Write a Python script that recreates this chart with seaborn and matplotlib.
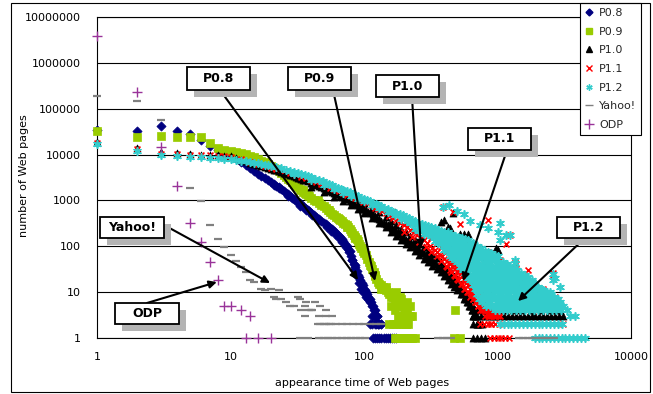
import matplotlib
matplotlib.use("Agg")
import matplotlib.pyplot as plt
import seaborn as sns
import pandas as pd
from matplotlib.patches import Rectangle
from matplotlib.lines import Line2D

# ---------------- data ----------------
series_names = ["P0.8", "P0.9", "P1.0", "P1.1", "P1.2", "Yahoo!", "ODP"]
x_ticks = [1, 10, 100, 1000, 10000]
x_tick_labels = ["1", "10", "100", "1000", "10000"]
y_ticks = [1, 10, 100, 1000, 10000, 100000, 1000000, 10000000]
y_tick_labels = ["1", "10", "100", "1000", "10000", "100000", "1000000", "10000000"]

# P0.8
p08_x = [1, 2, 3, 4, 5, 6, 7, 8, 9, 10, 11, 12, 13, 14, 15, 16, 17, 18, 19, 20,
         21, 22, 23, 24, 25, 26, 27, 28, 29, 30, 31, 32, 33, 34, 35, 36, 37, 38, 39, 40,
         42, 44, 46, 48, 50, 52, 54, 56, 58, 60, 62, 64, 66, 68, 70, 72, 74, 76, 78, 80,
         82, 84, 86, 88, 90, 92, 94, 96, 98, 100, 102, 104, 106, 108, 110, 112, 114, 116, 118, 120,
         123, 126, 130]
p08_y = [35000, 33000, 41000, 33000, 27500, 20500, 15500, 12500, 11000, 10000,
         8400, 7000, 5900, 5000, 4300, 3800, 3400, 3050, 2750, 2500,
         2280, 2080, 1900, 1740, 1600, 1470, 1350, 1250, 1150, 1070,
         990, 920, 860, 800, 750, 700, 660, 620, 580, 540,
         480, 435, 395, 360, 330, 300, 275, 255, 235, 215, 195, 175, 158, 143, 128, 113, 100, 88, 77, 60,
         50, 42, 35, 29, 24, 21, 18, 16, 14, 12, 11, 10, 9, 8, 7, 6, 5, 5, 4, 4,
         3, 3, 2]
p08_scatter_x = [21, 23, 27, 33, 37, 41, 45, 53, 57, 61, 65, 69, 73, 77, 81, 85,
                 84, 87, 91, 95, 99, 103, 107, 111, 115, 119, 124, 128, 122, 126, 134,
                 110, 115, 120, 128, 135,
                 117, 121, 125, 130, 135, 140, 145, 150, 156, 162, 168, 175]
p08_scatter_y = [2150, 1980, 1280, 760, 620, 470, 380, 270, 220, 190, 150, 125, 96, 74, 50, 40,
                 30, 24, 16, 12, 10, 8, 7, 6, 3, 3, 2, 2, 3, 3, 2,
                 2, 2, 2, 2, 2,
                 1, 1, 1, 1, 1, 1, 1, 1, 1, 1, 1, 1]

# P0.9
p09_x = [1, 2, 3, 4, 5, 6, 7, 8, 9, 10, 11, 12, 13, 14, 15, 16, 17, 18, 19, 20,
         21, 22, 23, 24, 25, 26, 27, 28, 29, 30, 31, 32, 33, 34, 35, 36, 37, 38, 39, 40,
         42, 44, 46, 48, 50, 52, 54, 56, 58, 60, 62, 64, 66, 68, 70, 72, 74, 76, 78, 80,
         82, 84, 86, 88, 90, 92, 94, 96, 98, 100, 103, 106, 109, 112, 115, 118, 121, 124, 127, 130,
         134, 138, 142, 146, 150, 155, 160, 165, 170, 175, 180, 186, 192, 198, 204, 210, 216, 222, 228]
p09_y = [33000, 24500, 26000, 24000, 24000, 24000, 17700, 14000, 12500, 12000,
         11500, 11000, 10300, 9500, 8800, 8100, 7400, 6800, 6200, 5700,
         5200, 4800, 4400, 4000, 3600, 3300, 3000, 2750, 2500, 2280,
         2080, 1920, 1770, 1660, 1560, 1480, 1400, 1330, 1260, 1150,
         1040, 950, 870, 800, 740, 690, 630, 560, 500, 470, 440, 410, 380, 350, 325, 305, 290, 260, 235, 215,
         195, 178, 160, 145, 128, 113, 100, 90, 80, 72, 63, 53, 45, 38, 32, 27, 23, 19, 17, 15,
         14, 13, 12, 11, 10, 9, 8, 8, 7, 6, 6, 5, 5, 4, 5, 4, 3, 3, 3]
p09_scatter_x = [31, 35, 45, 55, 65, 75, 85, 95, 110, 120, 135, 145,
                 160, 170, 180, 190, 200, 210, 220, 175, 185, 195, 205,
                 155, 165, 175, 185, 195, 205, 215,
                 170, 178, 186, 194, 202, 210, 220, 230, 240,
                 481, 470, 525]
p09_scatter_y = [2300, 1700, 1000, 620, 390, 260, 150, 90, 40, 24, 12, 13,
                 5, 4, 3, 7, 3, 6, 5, 10, 8, 3, 2,
                 2, 2, 2, 2, 2, 2, 2,
                 1, 1, 1, 1, 1, 1, 1, 1, 1,
                 4, 1, 1]

# P1.0
p10_x = [1, 2, 3, 4, 5, 6, 7, 8, 9, 10, 11, 12, 13, 14, 15, 16, 17, 18, 19, 20,
         21, 22, 23, 24, 25, 26, 27, 28, 29, 30, 31, 32, 33, 34, 35, 36, 38, 40, 42, 44,
         46, 48, 50, 52, 54, 56, 58, 60, 63, 66, 69, 72, 75, 78, 81, 84, 87, 90, 93, 96,
         100, 104, 108, 112, 116, 120, 125, 130, 135, 140, 145, 150, 156, 162, 168, 174, 180, 187, 194, 201,
         208, 216, 224, 232, 240, 250, 260, 270, 280, 290, 300, 312, 324, 336, 348, 360, 375, 390, 405, 420,
         435, 450, 465, 480, 495, 510, 525, 540, 555, 570, 585, 600, 615, 630, 645, 660, 680, 700]
p10_y = [19000, 14000, 11500, 11000, 10500, 10000, 10000, 9800, 9500, 9200,
         8500, 7800, 7200, 6700, 6300, 5900, 5600, 5300, 5100, 4900,
         4700, 4500, 4300, 4200, 4000, 3900, 3750, 3600, 3500, 3400,
         3300, 3150, 3050, 2950, 2850, 2750, 2600, 2450, 2300, 2200,
         2100, 1950, 1850, 1750, 1680, 1600, 1520, 1450, 1350, 1270, 1200, 1120, 1050, 990, 930, 880, 830, 780, 740, 700,
         650, 610, 570, 530, 500, 460, 420, 390, 360, 330, 310, 290, 275, 255, 235, 215, 200, 185, 170, 155,
         140, 130, 120, 110, 100, 92, 84, 76, 70, 64, 58, 54, 50, 46, 42, 38, 34, 31, 28, 25,
         23, 21, 18, 16, 14, 13, 12, 10, 9, 8, 7, 6, 5, 5, 4, 3, 3, 2]
p10_upper_x = [40, 50, 60, 70, 80, 90, 100, 115, 130, 145, 160, 175, 190, 205, 220, 240, 260, 280, 300, 325,
               350, 375, 400, 425, 450, 475, 500, 530, 560, 590, 620, 650, 680]
p10_upper_y = [3100, 2400, 1900, 1550, 1250, 1050, 880, 700, 560, 440, 350, 290, 240, 200, 165, 140, 115, 95, 80, 68,
               56, 46, 38, 32, 27, 23, 19, 15, 12, 9, 7, 5, 4]
p10_lower_x = [40, 50, 60, 70, 80, 90, 100, 115, 130, 145, 160, 175, 190, 205, 220, 240, 260, 280, 300, 325,
               350, 375, 400, 425, 450, 475, 500, 530, 560, 590, 620, 650, 680, 720, 760]
p10_lower_y = [2000, 1500, 1200, 950, 780, 640, 540, 420, 320, 260, 210, 170, 140, 115, 95, 78, 64, 54, 46, 38,
               32, 27, 22, 18, 15, 13, 11, 9, 7, 6, 5, 4, 3, 2, 2]
p10_outlier_x = [166, 170, 380, 395, 425, 440, 465, 520, 560, 600, 620, 800, 805, 820, 980, 1000, 1160]
p10_outlier_y = [570, 560, 345, 373, 268, 245, 530, 190, 190, 190, 76, 55, 54, 50, 90, 83, 24]
p10_row3_x = [650, 700, 750, 800, 860, 920, 980, 1050, 1120, 1200, 1280, 1370, 1470, 1570, 1680, 1800,
              1920, 2060, 2200, 2350, 2520, 2700, 2880, 3080]
p10_row4_x = [640, 700, 780, 850, 950, 1100, 1300, 1500, 1800, 2100, 2500, 2900]
p10_row2_x = [660, 700, 740]
p10_row1_x = [660, 705, 755, 805]

# P1.1
p11_x = [1, 2, 3, 4, 5, 6, 7, 8, 9, 10, 12, 14, 16, 18, 20, 22, 25, 28, 31, 34,
         37, 40, 44, 48, 52, 56, 60, 65, 70, 75, 80, 86, 92, 98, 105, 112, 120, 128, 136, 145,
         155, 165, 175, 186, 198, 210, 222, 235, 250, 265, 280, 295, 310, 325, 340, 355, 370, 385, 400, 420,
         440, 460, 480, 500, 520, 540, 560, 580, 600, 620, 640, 660, 680, 700, 720, 740, 760, 780, 800, 830,
         860, 900, 940, 980]
p11_y = [18000, 13000, 10500, 10500, 10000, 9800, 9700, 9500, 9300, 9000,
         8000, 7000, 6300, 5700, 5200, 4800, 4300, 3900, 3600, 3300,
         3050, 2800, 2550, 2300, 2100, 1900, 1750, 1600, 1450, 1330, 1230, 1120, 1020, 940, 860, 780, 700, 640, 580, 520,
         460, 410, 370, 330, 290, 260, 230, 200, 175, 155, 135, 118, 104, 92, 82, 74, 66, 60, 54, 48,
         42, 37, 32, 28, 25, 22, 19, 16, 14, 12, 11, 10, 9, 8, 7, 6, 5, 5, 4, 4,
         3, 3, 3, 3]
p11_upper_x = [200, 230, 260, 290, 320, 350, 380, 410, 440, 470, 500, 530, 560, 590, 620, 650, 680, 710, 740, 770,
               800, 850, 900, 950, 1000, 1050]
p11_upper_y = [400, 320, 250, 190, 150, 120, 95, 75, 60, 48, 38, 30, 24, 19, 15, 12, 10, 8, 7, 6,
               5, 4, 4, 3, 3, 3]
p11_lower_x = [200, 230, 260, 290, 320, 350, 380, 410, 440, 470, 500, 530, 560, 590, 620, 650, 680, 710, 740, 770,
               800, 850, 900]
p11_lower_y = [200, 160, 125, 95, 75, 60, 48, 38, 30, 24, 19, 15, 12, 10, 8, 7, 6, 5, 4, 4,
               3, 3, 2]
p11_wide_x = [420, 450, 480, 510, 540, 570, 600, 630, 660, 690, 720, 750, 780, 820, 870,
              430, 470, 510, 550, 590, 630, 670, 710, 750, 800, 850, 900]
p11_wide_y = [35, 28, 22, 18, 15, 12, 10, 9, 7, 6, 5, 5, 4, 4, 3,
              50, 40, 30, 24, 18, 14, 11, 9, 7, 6, 5, 4]
p11_outlier_x = [390, 465, 850, 1250, 1040, 1380, 2600, 850, 1000, 1350, 1480, 2600, 2700, 3100, 600, 700, 520,
                 1150, 1700, 2200]
p11_outlier_y = [730, 570, 373, 175, 50, 42, 26, 76, 50, 46, 16, 24, 8, 2, 130, 90, 300, 110, 30, 12]
p11_row2_x = [740, 790, 845, 900, 965, 1030]
p11_row1_x = [880, 940, 1000, 1070, 1140, 1220]

# P1.2
p12_x = [1, 2, 3, 4, 5, 6, 7, 8, 9, 10, 11, 12, 13, 14, 15, 16, 17, 18, 19, 20,
         22, 24, 26, 28, 30, 32, 34, 36, 38, 40, 43, 46, 49, 52, 55, 58, 61, 64, 67, 70,
         74, 78, 82, 86, 90, 95, 100, 105, 110, 116, 122, 128, 135, 142, 150, 158, 166, 175, 185, 195,
         205, 216, 228, 240, 255, 270, 285, 300, 320, 340, 360, 380, 400, 425, 450, 480, 510, 540, 570, 600,
         650, 700, 750, 800, 850, 900, 950, 1000, 1100, 1180, 1250, 1320, 1400, 1500, 1600, 1700, 1800, 1900, 2000, 2100,
         2200, 2350, 2500, 2650, 2800, 2950, 3100, 3300, 3500, 3800]
p12_y = [17000, 12000, 9800, 9500, 9000, 8700, 8400, 8500, 8000, 8000,
         7800, 7400, 7200, 6900, 6700, 6400, 6200, 6000, 5800, 5600,
         5300, 5000, 4700, 4450, 4200, 4000, 3800, 3600, 3400, 3200,
         3000, 2800, 2600, 2450, 2300, 2150, 2000, 1900, 1800, 1700,
         1600, 1500, 1400, 1320, 1250, 1150, 1080, 1000, 950, 900, 850, 800, 740, 700, 650, 600, 560, 530, 500, 470,
         440, 410, 380, 350, 330, 310, 290, 275, 260, 245, 230, 220, 210, 200, 190, 170, 160, 150, 145, 140,
         120, 100, 90, 80, 75, 70, 65, 60, 45, 42, 38, 34, 30, 26, 24, 21, 18, 16, 13, 12,
         11, 10, 9, 8, 7, 6, 5, 4, 3, 3]
p12_second_x = [30, 40, 50, 60, 70, 80, 90, 100, 115, 130, 150, 170, 190, 210]
p12_second_y = [3700, 2800, 2150, 1750, 1450, 1250, 1080, 950, 800, 680, 560, 470, 400, 350]
# cloud columns: one x per column, the y values of the column
p12_col_x = [220, 260, 300, 340, 380, 420, 460, 500, 550, 600, 650, 700, 760, 820, 880, 950, 1020, 1100, 1180,
             1270, 1370, 1480, 1600, 1730, 1870, 2020, 2180, 2360, 2550, 2750, 2970,
             240, 280, 320, 360, 400, 440, 480, 525, 575, 625, 675, 730, 790, 850, 915, 985, 1060, 1140, 1225,
             1320, 1425, 1540, 1665, 1800, 1945, 2100, 2270, 2455, 2650, 2860]
p12_col_y = [[330], [260, 220], [230, 190], [200, 160, 130], [180, 140, 110], [165, 130, 100, 80],
             [150, 115, 90, 70, 55], [130, 100, 78, 60, 46], [115, 88, 68, 52, 40, 30],
             [105, 80, 62, 48, 36, 27, 20], [95, 72, 55, 42, 32, 24, 18, 14],
             [82, 63, 48, 37, 28, 21, 16, 12, 9], [72, 55, 42, 32, 25, 19, 14, 11, 8, 6],
             [65, 50, 38, 29, 22, 17, 13, 10, 7, 5], [58, 44, 34, 26, 20, 15, 11, 8, 6, 5],
             [50, 38, 29, 22, 17, 13, 10, 7, 5, 4], [44, 33, 25, 19, 15, 11, 8, 6, 5, 4],
             [38, 29, 22, 17, 13, 10, 7, 5, 4], [33, 25, 19, 15, 11, 8, 6, 5, 4],
             [28, 22, 17, 13, 10, 7, 5, 4], [24, 18, 14, 11, 8, 6, 5, 4], [21, 16, 12, 9, 7, 5, 4],
             [18, 14, 10, 8, 6, 5, 4], [15, 12, 9, 7, 5, 4], [13, 10, 8, 6, 5, 4], [11, 9, 7, 5, 4],
             [10, 8, 6, 5, 4], [9, 7, 5, 4], [8, 6, 5, 4], [6, 5, 4], [5, 4],
             [300, 240], [280, 225, 190], [250, 205, 165], [220, 180, 145, 120], [195, 160, 125, 100, 85],
             [180, 145, 115, 90, 72, 60], [165, 130, 100, 80, 62, 50], [150, 120, 92, 72, 56, 44, 36],
             [100, 78, 60, 46, 35, 26], [125, 95, 72, 55, 42, 32, 24, 18], [88, 66, 50, 38, 29, 22, 16, 12],
             [88, 68, 52, 40, 30, 23, 17, 13, 10, 7], [60, 46, 35, 27, 21, 16, 12, 9, 7],
             [70, 54, 41, 31, 24, 18, 14, 10, 8, 6], [47, 36, 27, 21, 16, 12, 9, 7, 5],
             [54, 41, 31, 24, 18, 14, 11, 8, 6, 5], [36, 27, 21, 16, 12, 9, 7, 6, 5],
             [41, 31, 24, 18, 14, 11, 8, 6, 5], [27, 21, 16, 12, 9, 7, 6, 5],
             [31, 24, 18, 14, 11, 8, 6, 5], [20, 16, 12, 9, 7, 6, 5], [23, 17, 13, 10, 8, 6, 5],
             [15, 11, 9, 7, 6, 5], [17, 13, 10, 8, 6, 5], [11, 9, 7, 6, 5], [12, 10, 8, 6, 5],
             [9, 7, 6, 5], [10, 8, 6, 5], [6, 5], [7, 6, 5]]
p12_spike_x = [390, 430, 500, 560, 620, 740, 850, 1000, 1040, 1040, 1150, 1250, 1350, 1350, 2100, 2600, 2600,
               2700, 2950, 2950]
p12_spike_y = [720, 800, 600, 500, 350, 290, 250, 200, 320, 140, 180, 175, 50, 43, 9, 25, 18, 20, 13, 5]
p12_row2_x = [1040, 1110, 1190, 1270, 1360, 1450, 1550, 1660, 1780, 1900, 2030, 2170, 2320, 2480, 2650,
              2830, 3020]
p12_row1_x = [1900, 2030, 2170, 2320, 2480, 2650, 2830, 3020, 3230, 3450, 3690, 3940, 4210, 4500]

# Yahoo!
yahoo_x = [1, 2, 3, 5, 6, 7, 8, 9, 10, 11, 12, 13, 14, 15, 17, 18, 20, 21, 22, 23,
           24, 26, 28, 30, 32, 34, 36, 37, 39, 40, 43, 45, 47, 50, 52, 55, 33, 36, 41, 46, 52, 58]
yahoo_y = [190000, 148000, 56000, 1900, 970, 290, 144, 98, 65, 48, 35, 27, 18, 17, 12, 11, 12, 8, 7, 11,
           7, 6, 5, 5, 8, 4, 3, 6, 4, 4, 6, 2, 5, 2, 3, 2, 7, 5, 4, 3, 4, 3]
yahoo_row2_x = [47, 52, 57, 62, 68, 75, 83, 91, 100, 110, 122, 135]
yahoo_row1_x = [33, 38, 46, 50, 54, 58, 63, 68, 74, 80, 87, 94, 102, 360, 390, 420, 450,
                1450, 1560, 1680, 1800, 1950, 2100, 2250, 2450, 2650]

# ODP
odp_x = [1, 2, 3, 4, 5, 6, 7, 8, 9, 10, 12, 14, 13, 16, 20]
odp_y = [3900000, 234000, 14800, 2050, 330, 124, 45, 18, 5, 5, 4, 3, 1, 1, 1]

colors = {"P0.8": "#000080", "P0.9": "#99CC00", "P1.0": "#000000", "P1.1": "#FF0000",
          "P1.2": "#33CCCC", "Yahoo!": "#808080", "ODP": "#993399"}

# assemble each series from its pieces
def const(xs, v):
    return [v] * len(xs)

p12_cloud_x = [cx for cx, col in zip(p12_col_x, p12_col_y) for _ in col]
p12_cloud_y = [v for col in p12_col_y for v in col]

series = {
    "P0.8": (p08_x + p08_scatter_x, p08_y + p08_scatter_y),
    "P0.9": (p09_x + p09_scatter_x, p09_y + p09_scatter_y),
    "P1.0": (p10_x + p10_upper_x + p10_lower_x + p10_outlier_x + p10_row3_x + p10_row4_x + p10_row2_x + p10_row1_x,
             p10_y + p10_upper_y + p10_lower_y + p10_outlier_y + const(p10_row3_x, 3) + const(p10_row4_x, 4)
             + const(p10_row2_x, 2) + const(p10_row1_x, 1)),
    "P1.1": (p11_x + p11_upper_x + p11_lower_x + p11_wide_x + p11_outlier_x + p11_row2_x + p11_row1_x,
             p11_y + p11_upper_y + p11_lower_y + p11_wide_y + p11_outlier_y + const(p11_row2_x, 2)
             + const(p11_row1_x, 1)),
    "P1.2": (p12_x + p12_second_x + p12_cloud_x + p12_spike_x + p12_row2_x + p12_row1_x,
             p12_y + p12_second_y + p12_cloud_y + p12_spike_y + const(p12_row2_x, 2) + const(p12_row1_x, 1)),
    "Yahoo!": (yahoo_x + yahoo_row2_x + yahoo_row1_x,
               yahoo_y + const(yahoo_row2_x, 2) + const(yahoo_row1_x, 1)),
    "ODP": (odp_x, odp_y),
}

# ---------------- figure ----------------
W, H = 653, 394
sns.set_theme(style="white")
plt.rcParams["font.family"] = ["DejaVu Sans"]

fig = plt.figure(figsize=(W / 100, H / 100), dpi=100)
fig.patch.set_facecolor("white")
ax = fig.add_axes([97 / W, 1 - 338 / H, (631 - 97) / W, (338 - 17) / H])
ax.set_facecolor("white")
ax.set_xscale("log")
ax.set_yscale("log")

def fx(x):
    return x / W

def fy(y):
    return 1 - y / H

styles = {
    "P0.8": dict(marker="D", s=22, edgecolor=colors["P0.8"], linewidth=0.5),
    "P0.9": dict(marker="s", s=26, edgecolor=colors["P0.9"], linewidth=0.5),
    "P1.0": dict(marker="^", s=26, edgecolor=colors["P1.0"], linewidth=0.5),
    "P1.1": dict(marker="x", s=18, linewidth=1.2),
    "P1.2": dict(marker=(6, 2, 0), s=28, linewidth=1.2),
    "Yahoo!": dict(marker="_", s=40, linewidth=1.6),
    "ODP": dict(marker="+", s=50, linewidth=1.0),
}
for i, name in enumerate(series_names):
    xs, ys = series[name]
    df = pd.DataFrame({"t": xs, "n": ys})
    sns.scatterplot(data=df, x="t", y="n", color=colors[name], ax=ax,
                    clip_on=False, zorder=3 + i * 0.1, legend=False, **styles[name])

ax.set_xlim(1, 10000)
ax.set_ylim(1, 1e7)
ax.set_xticks(x_ticks)
ax.set_xticklabels(x_tick_labels)
ax.set_yticks(y_ticks)
ax.set_yticklabels(y_tick_labels)
ax.minorticks_off()
ax.tick_params(axis="x", direction="in", length=3, width=0.8, pad=10, labelsize=8, colors="black")
ax.tick_params(axis="y", length=0, pad=12, labelsize=8, colors="black")
ax.yaxis.grid(True, color="black", linewidth=0.8)
ax.xaxis.grid(False)
ax.set_axisbelow(True)
for sp in ax.spines.values():
    sp.set_color("black")
    sp.set_linewidth(0.8)
ax.set_xlabel("")
ax.set_ylabel("")

fig.text(fx(24), fy(176), "number of Web pages", rotation=90, ha="center", va="center",
         fontsize=8, color="black")
fig.text(fx(362), fy(383), "appearance time of Web pages", ha="center", va="center",
         fontsize=8, color="black")

# ---------------- annotation boxes and arrows ----------------
boxes = [
    ("P0.8", (187, 67, 250, 90), (220, 90), (90.2, 18.4)),
    ("P0.9", (288, 67, 351, 90), (333, 90), (120.9, 17.5)),
    ("P1.0", (376, 75, 439, 97), (412, 97), (267, 91.7)),
    ("P1.1", (468, 128, 531, 150), (507, 150), (551, 17.5)),
    ("P1.2", (557, 217, 620, 238), (585, 238), (1425, 6.4)),
    ("Yahoo!", (100, 217, 164, 238), (164, 225), (19.8, 15.8)),
    ("ODP", (115, 303, 179, 324), (147, 303), (7.9, 16.6)),
]
for label, (x0, y0, x1, y1), start, tip in boxes:
    ax.annotate("", xy=tip, xycoords="data", xytext=(fx(start[0]), fy(start[1])),
                textcoords="figure fraction",
                arrowprops=dict(arrowstyle="-|>", color="black", lw=1.5,
                                mutation_scale=11, shrinkA=0, shrinkB=0),
                zorder=10)
    fig.add_artist(Rectangle((fx(x0 + 7), fy(y1 + 7)), (x1 - x0) / W, (y1 - y0) / H,
                             transform=fig.transFigure, facecolor="#b4b4b4",
                             edgecolor="none", zorder=20))
    fig.add_artist(Rectangle((fx(x0), fy(y1)), (x1 - x0) / W, (y1 - y0) / H,
                             transform=fig.transFigure, facecolor="white",
                             edgecolor="black", linewidth=1.3, zorder=21))
    fig.text(fx((x0 + x1) / 2), fy((y0 + y1) / 2), label, ha="center", va="center",
             fontsize=9, fontweight="bold", color="black", zorder=22)

# ---------------- legend ----------------
leg_markers = {"P0.8": ("D", 3.5), "P0.9": ("s", 4), "P1.0": ("^", 4.5), "P1.1": ("x", 4),
               "P1.2": ((6, 2, 0), 4.5), "Yahoo!": ("_", 6), "ODP": ("+", 7)}
handles = []
for name in series_names:
    m, ms = leg_markers[name]
    handles.append(Line2D([], [], marker=m, markersize=ms, linestyle="none",
                          color=colors[name], markeredgecolor=colors[name],
                          markeredgewidth=1.0))
leg = fig.legend(handles, series_names, loc="upper left",
                 bbox_to_anchor=(fx(580), fy(3)), frameon=True, fancybox=False,
                 edgecolor="black", facecolor="white", framealpha=1, fontsize=8,
                 labelspacing=0.78, handlelength=0.8, handletextpad=0.45,
                 borderpad=0.45, borderaxespad=0)
leg.get_frame().set_linewidth(0.8)
leg.set_zorder(30)

# outer chart frame
fig.add_artist(Rectangle((fx(11), fy(392)), (650 - 11) / W, (392 - 3) / H,
                         transform=fig.transFigure, fill=False, edgecolor="black",
                         linewidth=0.8, zorder=40))

fig.savefig("out.png", dpi=100)
